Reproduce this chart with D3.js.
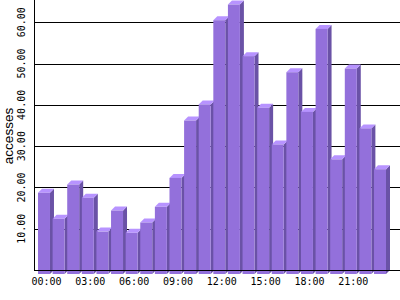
<!DOCTYPE html>
<html>
<head>
<meta charset="utf-8">
<script src="https://cdn.jsdelivr.net/npm/d3@7"></script>
<style>
  body { margin: 0; background: #fff; }
  .tick-label { font-family: "DejaVu Sans Mono", monospace; font-size: 10px; fill: #000; }
  .axis-title { font-family: "Liberation Sans", sans-serif; font-size: 13.5px; fill: #000; }
</style>
</head>
<body>
<div id="chart"></div>
<script>
// hours of the day and accesses per hour
var hours = ["00:00","01:00","02:00","03:00","04:00","05:00","06:00","07:00",
             "08:00","09:00","10:00","11:00","12:00","13:00","14:00","15:00",
             "16:00","17:00","18:00","19:00","20:00","21:00","22:00","23:00"];
var accesses = [18.7, 12.4, 20.7, 17.5, 9.3, 14.4, 9.0, 11.5, 15.3, 22.3, 36.2, 40.1,
                60.5, 64.3, 51.8, 39.3, 30.4, 47.9, 38.3, 58.4, 26.8, 48.8, 34.3, 24.4];
var yTicks = [10, 20, 30, 40, 50, 60];
var xLabels = ["00:00","03:00","06:00","09:00","12:00","15:00","18:00","21:00"];
var yMax = 65.4;

var width = 400, height = 300;
var left = 34, baseY = 270;
var depth = 4;

var svg = d3.select("#chart").append("svg")
    .attr("width", width)
    .attr("height", height);

var x = d3.scaleBand()
    .domain(hours)
    .range([38, 386])
    .paddingInner(0.18)
    .paddingOuter(0);

var y = d3.scaleLinear()
    .domain([0, yMax])
    .range([baseY, 0]);

// grid lines
svg.append("g").selectAll("line")
    .data(yTicks)
    .enter().append("line")
    .attr("x1", left)
    .attr("x2", width)
    .attr("y1", function(d) { return Math.round(y(d)) + 0.5; })
    .attr("y2", function(d) { return Math.round(y(d)) + 0.5; })
    .attr("stroke", "#000")
    .attr("stroke-width", 1);

// 3d bars
var bars = svg.append("g").selectAll("g")
    .data(accesses)
    .enter().append("g");

var bottom = baseY + 4;

bars.append("polygon")
    .attr("fill", "#6a52a6")
    .attr("points", function(d, i) {
        var x1 = x(hours[i]) + x.bandwidth(), t = y(d);
        return [[x1, t], [x1 + depth, t - depth], [x1 + depth, bottom - depth], [x1, bottom]].join(" ");
    });

bars.append("polygon")
    .attr("fill", "#b793ff")
    .attr("points", function(d, i) {
        var x0 = x(hours[i]), x1 = x0 + x.bandwidth(), t = y(d);
        return [[x0, t], [x0 + depth, t - depth], [x1 + depth, t - depth], [x1, t]].join(" ");
    });

bars.append("rect")
    .attr("fill", "#9370db")
    .attr("x", function(d, i) { return x(hours[i]); })
    .attr("y", function(d) { return y(d); })
    .attr("width", x.bandwidth())
    .attr("height", function(d) { return bottom - y(d); });

// axes lines
svg.append("line")
    .attr("x1", left + 0.5).attr("x2", left + 0.5)
    .attr("y1", 0).attr("y2", baseY + 0.5)
    .attr("stroke", "#000");
svg.append("line")
    .attr("x1", left).attr("x2", width)
    .attr("y1", baseY + 0.5).attr("y2", baseY + 0.5)
    .attr("stroke", "#000");

// y tick labels (rotated)
svg.append("g").selectAll("text")
    .data(yTicks)
    .enter().append("text")
    .attr("class", "tick-label")
    .attr("text-anchor", "middle")
    .attr("transform", function(d) { return "translate(25," + y(d) + ") rotate(-90)"; })
    .text(function(d) { return d3.format(".2f")(d); });

// x tick labels
svg.append("g").selectAll("text")
    .data(xLabels)
    .enter().append("text")
    .attr("class", "tick-label")
    .attr("text-anchor", "middle")
    .attr("x", function(d) { return x(d) + x.bandwidth() / 2 + 2.5; })
    .attr("y", 285)
    .text(function(d) { return d; });

svg.append("text")
    .attr("class", "axis-title")
    .attr("text-anchor", "middle")
    .attr("transform", "translate(12.5,136) rotate(-90)")
    .text("accesses");
</script>
</body>
</html>
